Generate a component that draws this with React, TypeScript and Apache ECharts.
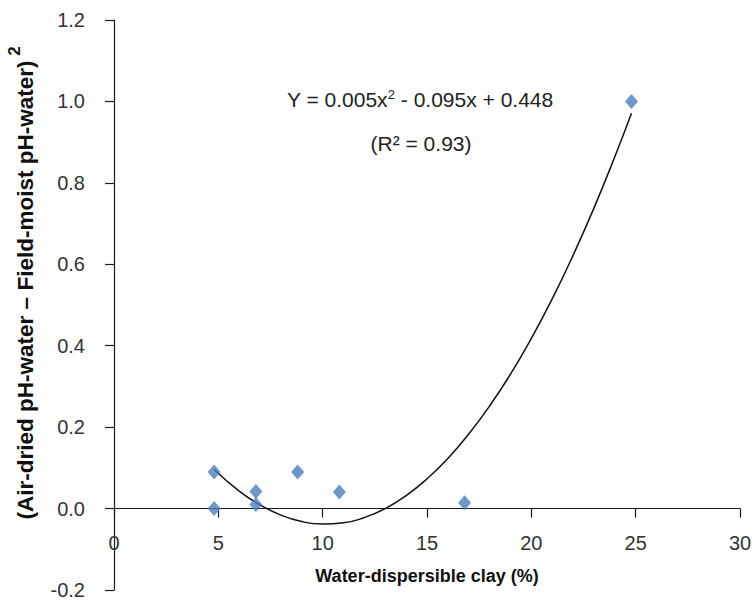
import React, { useEffect, useRef } from "react";
import * as echarts from "echarts";

const xTickLabels = ["0", "5", "10", "15", "20", "25", "30"];
const yTickLabels = ["-0.2", "0.0", "0.2", "0.4", "0.6", "0.8", "1.0", "1.2"];

// observed points: water-dispersible clay (%) vs squared pH difference
const clayValues = [4.8, 4.8, 6.8, 6.8, 8.8, 10.8, 16.8, 24.8];
const phDiffValues = [0.09, 0.0, 0.042, 0.01, 0.09, 0.041, 0.014, 1.0];

// polynomial trendline
const trendX = [4.8, 6, 7, 8, 9, 10, 11, 12, 13, 14, 15, 16, 17, 18, 19, 20, 21, 22, 23, 24, 24.8];
const trendY = [0.096, 0.043, 0.009, -0.016, -0.032, -0.038, -0.035, -0.022, 0.0, 0.032, 0.073, 0.123, 0.183, 0.252, 0.33, 0.418, 0.515, 0.622, 0.738, 0.864, 0.971];

const xTitle = "Water-dispersible clay (%)";
const yTitle = "(Air-dried pH-water \u2013 Field-moist pH-water)";
const yTitleSup = "2";
const eqMain = "Y = 0.005x{s|2} - 0.095x + 0.448";
const eqR2 = "(R\u00b2 = 0.93)";

const Y_MIN = -0.2;
const Y_MAX = 1.2;

export default function App() {
  const ref = useRef<HTMLDivElement>(null);
  useEffect(() => {
    if (!ref.current) return;
    const chart = echarts.init(ref.current, null, { renderer: "svg" });
    const scatterData = clayValues.map((x, i) => [x, phDiffValues[i]]);
    const trendData = trendX.map((x, i) => [x, trendY[i]]);
    const labelFont = "Liberation Sans, Arial, sans-serif";
    const gridTop = 20;
    const gridBottom = 11;
    const gridH = 601 - gridTop - gridBottom;
    // place the x axis (line, ticks, labels, name) on y = 0
    const zeroOffset = -(gridH * (0 - Y_MIN)) / (Y_MAX - Y_MIN);
    chart.setOption({
      animation: false,
      backgroundColor: "#ffffff",
      grid: { left: 114, right: 13, top: gridTop, bottom: gridBottom, containLabel: false, outerBoundsMode: "none" },
      xAxis: {
        type: "value",
        min: 0,
        max: 30,
        interval: 5,
        position: "bottom",
        offset: zeroOffset,
        axisLine: { onZero: false, lineStyle: { color: "#1a1a1a", width: 1.2 } },
        axisTick: { show: true, inside: false, length: 9, lineStyle: { color: "#1a1a1a", width: 1.2 } },
        axisLabel: {
          margin: 24,
          fontSize: 20,
          color: "#333333",
          fontFamily: labelFont,
          formatter: (v: number) => xTickLabels[Math.round(v / 5)] ?? String(v),
        },
        splitLine: { show: false },
        name: xTitle,
        nameLocation: "middle",
        nameGap: 58,
        nameTextStyle: { fontSize: 18, fontWeight: "bold", color: "#111111", fontFamily: labelFont },
      },
      yAxis: {
        type: "value",
        min: Y_MIN,
        max: Y_MAX,
        interval: 0.2,
        axisLine: { lineStyle: { color: "#1a1a1a", width: 1.2 } },
        axisTick: { show: true, inside: false, length: 9, lineStyle: { color: "#1a1a1a", width: 1.2 } },
        axisLabel: {
          margin: 29,
          fontSize: 20,
          color: "#333333",
          fontFamily: labelFont,
          formatter: (v: number) => yTickLabels[Math.round((v - Y_MIN) / 0.2)] ?? v.toFixed(1),
        },
        splitLine: { show: false },
      },
      graphic: [
        {
          type: "text",
          x: 25,
          y: 290,
          rotation: Math.PI / 2,
          style: {
            text: yTitle,
            fontSize: 22.5,
            fontWeight: "bold",
            fontFamily: labelFont,
            fill: "#111111",
            align: "center",
            verticalAlign: "middle",
          },
        },
        {
          type: "text",
          x: 14,
          y: 51,
          rotation: Math.PI / 2,
          style: {
            text: yTitleSup,
            fontSize: 17,
            fontWeight: "bold",
            fontFamily: labelFont,
            fill: "#111111",
            align: "center",
            verticalAlign: "middle",
          },
        },
        {
          type: "text",
          x: 420,
          y: 99,
          style: {
            text: eqMain,
            fontSize: 21,
            fontFamily: labelFont,
            fill: "#222222",
            align: "center",
            verticalAlign: "middle",
            rich: {
              s: { fontSize: 13, fontFamily: labelFont, fill: "#222222", verticalAlign: "top", padding: [0, 0, 10, 0] },
            },
          },
        },
        {
          type: "text",
          x: 421,
          y: 143,
          style: {
            text: eqR2,
            fontSize: 21,
            fontFamily: labelFont,
            fill: "#222222",
            align: "center",
            verticalAlign: "middle",
          },
        },
      ],
      series: [
        {
          type: "line",
          data: trendData,
          smooth: true,
          showSymbol: false,
          symbol: "none",
          lineStyle: { color: "#111111", width: 1.5 },
          z: 2,
        },
        {
          type: "scatter",
          data: scatterData,
          symbol: "diamond",
          symbolSize: [13, 15],
          itemStyle: { color: "#4a7ebb" },
          z: 3,
        },
      ],
    });
    return () => chart.dispose();
  }, []);
  return (
    <div style={{ position: "absolute", left: 0, top: 0, width: 753, height: 601, background: "#fff" }}>
      <div ref={ref} style={{ width: 753, height: 601 }} />
    </div>
  );
}
